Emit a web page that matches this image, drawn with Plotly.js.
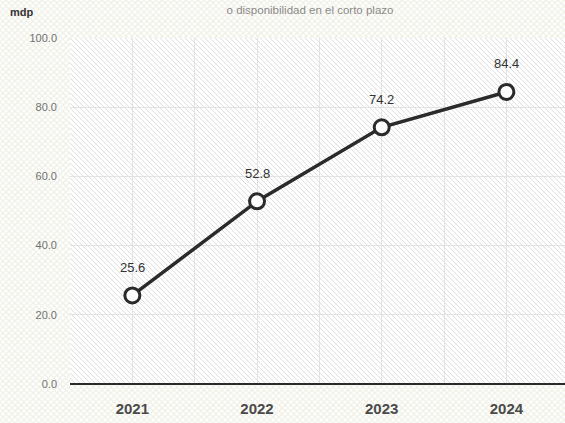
<!DOCTYPE html>
<html>
<head>
<meta charset="utf-8">
<script src="https://cdn.plot.ly/plotly-3.0.1.min.js"></script>
<style>
html,body{margin:0;padding:0;}
#chart{width:565px;height:423px;}
</style>
</head>
<body>
<div id="chart"></div>
<script>
// Data
const years = [2021, 2022, 2023, 2024];
const values = [25.6, 52.8, 74.2, 84.4];
const yTicks = [0, 20, 40, 60, 80, 100];
const yTickLabels = ["0.0", "20.0", "40.0", "60.0", "80.0", "100.0"];
const titleText = "o disponibilidad en el corto plazo";
const unitText = "mdp";

const W = 565, H = 423;
const M = {l: 70, r: 0, t: 38, b: 39};
const PW = W - M.l - M.r, PH = H - M.t - M.b;

function svgURI(svg){ return "data:image/svg+xml;charset=utf-8," + encodeURIComponent(svg); }

// paper background: faint cross-hatch
const paperSvg = '<svg xmlns="http://www.w3.org/2000/svg" width="' + W + '" height="' + H + '">' +
  '<defs><pattern id="p" width="6" height="6" patternUnits="userSpaceOnUse">' +
  '<rect width="6" height="6" fill="#ffffff"/>' +
  '<path d="M0,0 L6,6 M6,0 L0,6" stroke="#f1f1e7" stroke-width="1.3"/>' +
  '</pattern></defs><rect width="' + W + '" height="' + H + '" fill="url(#p)"/></svg>';
document.body.style.background = 'url("' + svgURI(paperSvg) + '")';

// plot area hatch
const hatchSvg = '<svg xmlns="http://www.w3.org/2000/svg" width="' + PW + '" height="' + PH + '">' +
  '<defs><pattern id="h" width="5" height="5" patternUnits="userSpaceOnUse">' +
  '<rect width="5" height="5" fill="#ffffff"/>' +
  '<path d="M-1,-1 L6,6 M-1,4 L1,6 M4,-1 L6,1" stroke="#dedede" stroke-width="1"/>' +
  '</pattern></defs><rect width="' + PW + '" height="' + PH + '" fill="url(#h)"/></svg>';

const font = "Liberation Sans, Arial, Helvetica, sans-serif";

const trace = {
  x: years, y: values, type: 'scatter', mode: 'lines+markers',
  line: {color: '#2b2b2b', width: 3.5},
  marker: {size: 15, color: '#ffffff', line: {color: '#2b2b2b', width: 3}},
  hoverinfo: 'skip', cliponaxis: false
};

const annotations = years.map((yr, i) => ({
  x: yr, y: values[i], xref: 'x', yref: 'y', text: values[i].toFixed(1),
  showarrow: false, yshift: 28, font: {family: font, size: 13, color: '#333333'}
}));
annotations.push({
  xref: 'paper', yref: 'paper', x: -62/PW, y: 1 + 26/PH, xanchor: 'left', yanchor: 'middle',
  text: '<b>' + unitText + '</b>', showarrow: false, font: {family: font, size: 11, color: '#333333'}
});

const layout = {
  width: W, height: H,
  margin: M,
  paper_bgcolor: 'rgba(0,0,0,0)',
  plot_bgcolor: 'rgba(0,0,0,0)',
  showlegend: false,
  title: {text: titleText, x: 310/W, xanchor: 'center', y: 1 - 10/H, yanchor: 'middle',
          font: {family: font, size: 11.5, color: '#8a8a8a'}},
  xaxis: {
    range: [2020.5, 2024.47], tickvals: years, ticktext: years.map(String),
    showgrid: true, gridcolor: '#e2e2e2', gridwidth: 1,
    minor: {tick0: 2020.5, dtick: 1, showgrid: true, gridcolor: '#e2e2e2', gridwidth: 1},
    zeroline: false, showline: false, ticks: '',
    tickfont: {family: font, size: 15, color: '#4a4a4a', weight: 'bold'},
    ticklabelstandoff: 14, fixedrange: true
  },
  yaxis: {
    range: [0, 100], tickvals: yTicks, ticktext: yTickLabels,
    showgrid: true, gridcolor: '#e2e2e2', gridwidth: 1,
    zeroline: true, zerolinecolor: '#2b2b2b', zerolinewidth: 2,
    showline: false, ticks: '', ticklabelstandoff: 12,
    tickfont: {family: font, size: 11, color: '#707070'}, fixedrange: true
  },
  images: [{
    source: svgURI(hatchSvg), xref: 'paper', yref: 'paper', x: 0, y: 1,
    sizex: 1, sizey: 1, xanchor: 'left', yanchor: 'top', sizing: 'stretch', layer: 'below'
  }],
  annotations: annotations
};

Plotly.newPlot('chart', [trace], layout, {displayModeBar: false, staticPlot: true});
</script>
</body>
</html>
